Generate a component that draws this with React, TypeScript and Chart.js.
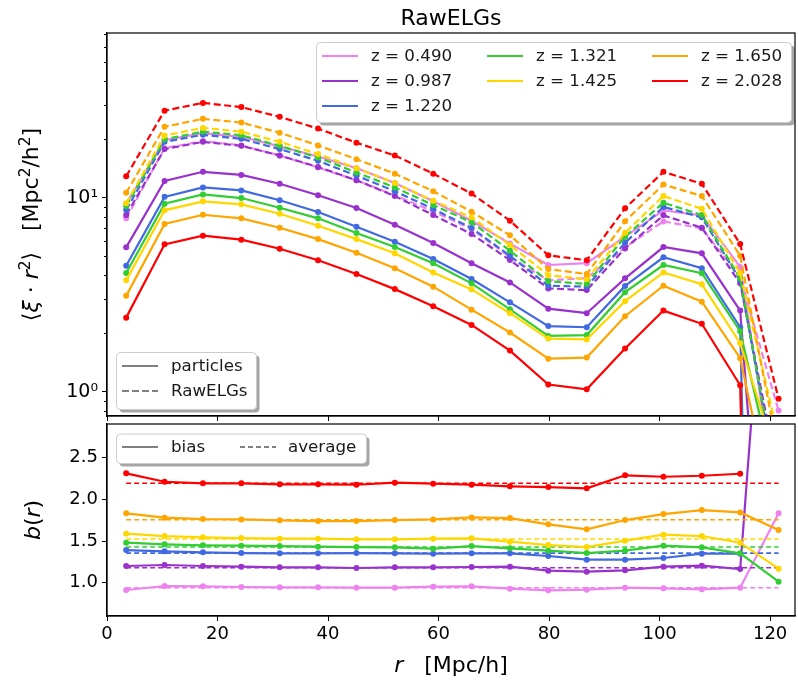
import React, { useEffect, useRef } from "react";
import { Chart, registerables } from "chart.js";

Chart.register(...registerables);

// ---------------- data ----------------
const R_VALUES = [3.47, 10.42, 17.36, 24.31, 31.25, 38.19, 45.14, 52.08, 59.03, 65.97, 72.92, 79.86, 86.81, 93.75, 100.69, 107.64, 114.58, 121.53];

const REDSHIFTS = ["0.490", "0.987", "1.220", "1.321", "1.425", "1.650", "2.028"];
const COLORS = ["#EE82EE", "#9932CC", "#4169E1", "#32CD32", "#FFD700", "#FFA500", "#FF0000"];

// <xi * r^2> of the particles (solid lines)
const PART_Z0490 = [9.3, 19.8, 21.5, 20.6, 18.4, 16.3, 14.2, 11.9, 9.6, 7.6, 5.8, 4.5, 4.6, 6.3, 8.6, 8.1, 4.4, 0.24];
const PART_Z0987 = [5.55, 12.2, 13.6, 13.1, 11.8, 10.3, 8.85, 7.26, 5.84, 4.59, 3.66, 2.68, 2.54, 3.84, 5.57, 5.17, 2.62, 0.0067];
const PART_Z1220 = [4.46, 10.1, 11.3, 10.9, 9.7, 8.44, 7.09, 5.93, 4.83, 3.81, 2.89, 2.18, 2.15, 3.51, 4.93, 4.33, 2.15, 1e-8];
const PART_Z1321 = [4.09, 9.31, 10.4, 9.96, 8.88, 7.83, 6.58, 5.57, 4.59, 3.62, 2.66, 1.94, 1.96, 3.26, 4.5, 4.08, 2.05, 0.29];
const PART_Z1425 = [3.75, 8.61, 9.58, 9.24, 8.27, 7.17, 6.12, 5.17, 4.12, 3.37, 2.54, 1.88, 1.86, 2.93, 4.12, 3.58, 1.78, 0.425];
const PART_Z1650 = [3.12, 7.32, 8.17, 7.83, 7.0, 6.12, 5.21, 4.33, 3.48, 2.65, 2.02, 1.48, 1.5, 2.45, 3.52, 2.91, 1.49, 0.18];
const PART_Z2028 = [2.41, 5.75, 6.37, 6.08, 5.46, 4.76, 4.04, 3.38, 2.76, 2.21, 1.63, 1.09, 1.03, 1.67, 2.62, 2.24, 1.08, 1e-8];

// <xi * r^2> of the RawELGs (dashed lines)
const ELG_Z0490 = [7.83, 18.0, 19.6, 18.6, 16.5, 14.3, 12.3, 10.3, 8.5, 6.9, 4.95, 3.75, 3.85, 5.55, 7.55, 6.95, 3.9, 0.8];
const ELG_Z0987 = [8.14, 17.8, 19.4, 18.5, 16.5, 14.4, 12.3, 10.2, 8.14, 6.5, 4.77, 3.41, 3.34, 5.48, 8.11, 7.0, 3.62, 0.36];
const ELG_Z1220 = [8.64, 19.4, 21.1, 20.1, 17.8, 15.5, 13.0, 10.8, 8.75, 6.98, 5.02, 3.52, 3.48, 5.86, 8.96, 7.92, 3.76, 0.3];
const ELG_Z1321 = [9.06, 20.0, 21.9, 21.0, 18.5, 16.1, 13.5, 11.3, 9.17, 7.47, 5.33, 3.71, 3.59, 6.3, 9.42, 8.14, 3.84, 0.3];
const ELG_Z1425 = [9.36, 20.9, 22.9, 21.9, 19.4, 16.8, 14.2, 11.9, 9.65, 7.92, 5.7, 3.99, 3.8, 6.6, 10.2, 8.77, 4.08, 0.58];
const ELG_Z1650 = [10.6, 23.2, 25.5, 24.4, 21.6, 18.6, 15.8, 13.3, 10.8, 8.47, 6.4, 4.29, 4.04, 7.56, 11.7, 10.2, 5.02, 0.48];
const ELG_Z2028 = [12.9, 28.1, 30.8, 29.3, 26.1, 22.7, 19.2, 16.5, 13.3, 10.5, 7.61, 5.05, 4.76, 8.82, 13.6, 11.8, 5.77, 0.92];

// bias b(r)
const BIAS_Z0490 = [0.912, 0.96, 0.956, 0.948, 0.944, 0.944, 0.94, 0.94, 0.952, 0.956, 0.928, 0.908, 0.916, 0.94, 0.932, 0.92, 0.94, 1.833];
const BIAS_Z0987 = [1.2, 1.212, 1.2, 1.192, 1.184, 1.184, 1.176, 1.184, 1.184, 1.188, 1.192, 1.144, 1.132, 1.148, 1.192, 1.204, 1.164, 7.3];
const BIAS_Z1220 = [1.392, 1.376, 1.364, 1.356, 1.352, 1.352, 1.356, 1.352, 1.348, 1.352, 1.352, 1.32, 1.276, 1.276, 1.296, 1.348, 1.348, null];
const BIAS_Z1321 = [1.48, 1.46, 1.448, 1.444, 1.44, 1.432, 1.428, 1.424, 1.408, 1.44, 1.412, 1.384, 1.356, 1.384, 1.444, 1.424, 1.352, 1.012];
const BIAS_Z1425 = [1.588, 1.56, 1.544, 1.536, 1.528, 1.528, 1.52, 1.52, 1.528, 1.532, 1.492, 1.452, 1.428, 1.504, 1.576, 1.56, 1.48, 1.168];
const BIAS_Z1650 = [1.833, 1.78, 1.764, 1.76, 1.749, 1.74, 1.74, 1.752, 1.76, 1.784, 1.776, 1.7, 1.64, 1.752, 1.824, 1.872, 1.844, 1.632];
const BIAS_Z2028 = [2.313, 2.212, 2.193, 2.193, 2.181, 2.181, 2.176, 2.2, 2.188, 2.176, 2.157, 2.148, 2.133, 2.289, 2.272, 2.284, 2.308, null];

// average bias (dashed horizontal lines)
const BIAS_AVERAGE = [0.94, 1.18, 1.355, 1.428, 1.524, 1.756, 2.193];

const X_TICKS = [0, 20, 40, 60, 80, 100, 120];
const TOP_MAJOR_TICKS = [1, 10];
const TOP_MINOR_TICKS = [0.8, 0.9, 2, 3, 4, 5, 6, 7, 8, 9, 20, 30, 40, 50, 60, 70];
const BOTTOM_Y_TICKS = [1.0, 1.5, 2.0, 2.5];

const PARTICLES = [PART_Z0490, PART_Z0987, PART_Z1220, PART_Z1321, PART_Z1425, PART_Z1650, PART_Z2028];
const ELGS = [ELG_Z0490, ELG_Z0987, ELG_Z1220, ELG_Z1321, ELG_Z1425, ELG_Z1650, ELG_Z2028];
const BIASES = [BIAS_Z0490, BIAS_Z0987, BIAS_Z1220, BIAS_Z1321, BIAS_Z1425, BIAS_Z1650, BIAS_Z2028];

// ---------------- layout ----------------
const W = 798;
const H = 688;
const AREA_LEFT = 107;
const AREA_RIGHT = 797;
const TOP_AREA_TOP = 33;
const TOP_AREA_BOTTOM = 416;
const BOT_AREA_TOP = 424;
const BOT_AREA_BOTTOM = 616;
const FONT = '"DejaVu Sans", "Noto Sans", sans-serif';

type Seg = { t: string; it?: boolean; sup?: boolean };

function drawRich(ctx: CanvasRenderingContext2D, segs: Seg[], x: number, y: number, size: number) {
  let total = 0;
  const parts = segs.map((s) => {
    const sz = s.sup ? size * 0.7 : size;
    const font = `${s.it ? "italic " : ""}${sz}px ${FONT}`;
    ctx.font = font;
    const w = ctx.measureText(s.t).width;
    total += w;
    return { ...s, font, w };
  });
  let cx = x - total / 2;
  ctx.textAlign = "left";
  ctx.textBaseline = "alphabetic";
  parts.forEach((p) => {
    ctx.font = p.font;
    ctx.fillText(p.t, cx, y - (p.sup ? size * 0.38 : 0));
    cx += p.w;
  });
}

function roundRect(ctx: CanvasRenderingContext2D, x: number, y: number, w: number, h: number, r: number) {
  ctx.beginPath();
  ctx.moveTo(x + r, y);
  ctx.lineTo(x + w - r, y);
  ctx.quadraticCurveTo(x + w, y, x + w, y + r);
  ctx.lineTo(x + w, y + h - r);
  ctx.quadraticCurveTo(x + w, y + h, x + w - r, y + h);
  ctx.lineTo(x + r, y + h);
  ctx.quadraticCurveTo(x, y + h, x, y + h - r);
  ctx.lineTo(x, y + r);
  ctx.quadraticCurveTo(x, y, x + r, y);
  ctx.closePath();
}

function legendBox(ctx: CanvasRenderingContext2D, x: number, y: number, w: number, h: number) {
  ctx.save();
  ctx.fillStyle = "rgba(0,0,0,0.35)";
  roundRect(ctx, x + 3, y + 3, w, h, 4);
  ctx.fill();
  ctx.fillStyle = "#ffffff";
  roundRect(ctx, x, y, w, h, 4);
  ctx.fill();
  ctx.strokeStyle = "#cccccc";
  ctx.lineWidth = 1;
  ctx.stroke();
  ctx.restore();
}

function legendEntry(ctx: CanvasRenderingContext2D, x: number, y: number, color: string, dash: number[], label: string, textX: number) {
  ctx.save();
  ctx.strokeStyle = color;
  ctx.lineWidth = 2.2;
  ctx.setLineDash(dash);
  ctx.beginPath();
  ctx.moveTo(x, y);
  ctx.lineTo(x + 36, y);
  ctx.stroke();
  ctx.setLineDash([]);
  ctx.fillStyle = "#1a1a1a";
  ctx.font = `16.7px ${FONT}`;
  ctx.textAlign = "left";
  ctx.textBaseline = "middle";
  ctx.fillText(label, textX, y + 1);
  ctx.restore();
}

function frame(ctx: CanvasRenderingContext2D, a: any) {
  ctx.save();
  ctx.strokeStyle = "#000";
  ctx.lineWidth = 1.2;
  ctx.strokeRect(a.left, a.top, a.right - a.left, a.bottom - a.top);
  ctx.restore();
}

const topDecor = {
  id: "topDecor",
  afterDraw(chart: any) {
    const ctx = chart.ctx as CanvasRenderingContext2D;
    const a = chart.chartArea;
    frame(ctx, a);
    // minor log ticks
    const ys = chart.scales.y;
    ctx.save();
    ctx.strokeStyle = "#000";
    ctx.lineWidth = 1;
    TOP_MINOR_TICKS.forEach((v) => {
      const p = Math.round(ys.getPixelForValue(v)) + 0.5;
      ctx.beginPath();
      ctx.moveTo(a.left, p);
      ctx.lineTo(a.left - 3, p);
      ctx.stroke();
    });
    ctx.restore();
    // title
    ctx.save();
    ctx.fillStyle = "#000";
    ctx.font = `22px ${FONT}`;
    ctx.textAlign = "center";
    ctx.textBaseline = "alphabetic";
    ctx.fillText("RawELGs", (a.left + a.right) / 2, 25);
    ctx.restore();
    // y label
    ctx.save();
    ctx.fillStyle = "#000";
    ctx.translate(30, (a.top + a.bottom) / 2);
    ctx.rotate(-Math.PI / 2);
    drawRich(
      ctx,
      [
        { t: "\u27E8" },
        { t: "\u03BE", it: true },
        { t: " \u00B7 " },
        { t: "r", it: true },
        { t: "2", sup: true },
        { t: "\u27E9" },
        { t: "   [Mpc" },
        { t: "2", sup: true },
        { t: "/h" },
        { t: "2", sup: true },
        { t: "]" },
      ],
      0,
      8,
      22
    );
    ctx.restore();
    // redshift legend
    legendBox(ctx, 316.5, 42.5, 475, 80);
    const colX = [322, 487, 652];
    const rowY = [56, 81, 106];
    const slots = [
      [0, 0], [0, 1], [0, 2],
      [1, 0], [1, 1],
      [2, 0], [2, 1],
    ];
    REDSHIFTS.forEach((z, k) => {
      const [c, r] = slots[k];
      legendEntry(ctx, colX[c], rowY[r], COLORS[k], [], `z = ${z}`, colX[c] + 49);
    });
    // style legend
    legendBox(ctx, 116.5, 352.5, 140, 57);
    legendEntry(ctx, 122, 366, "#808080", [], "particles", 171);
    legendEntry(ctx, 122, 391, "#808080", [7, 3], "RawELGs", 171);
  },
};

const bottomDecor = {
  id: "bottomDecor",
  afterDraw(chart: any) {
    const ctx = chart.ctx as CanvasRenderingContext2D;
    const a = chart.chartArea;
    frame(ctx, a);
    legendBox(ctx, 116.5, 434, 250, 29.5);
    legendEntry(ctx, 122, 447, "#808080", [], "bias", 171);
    legendEntry(ctx, 240, 447, "#808080", [5, 3], "average", 288);
    ctx.save();
    ctx.fillStyle = "#000";
    drawRich(ctx, [{ t: "r", it: true }, { t: "   [Mpc/h]" }], (a.left + a.right) / 2, 672, 22);
    ctx.translate(32, (a.top + a.bottom) / 2);
    ctx.rotate(-Math.PI / 2);
    drawRich(ctx, [{ t: "b", it: true }, { t: "(" }, { t: "r", it: true }, { t: ")" }], 0, 8, 22);
    ctx.restore();
  },
};

function xScale(showLabels: boolean, height: number) {
  return {
    type: "linear",
    min: 0,
    max: 124.5,
    afterBuildTicks: (s: any) => {
      s.ticks = X_TICKS.map((v) => ({ value: v }));
    },
    afterFit: (s: any) => {
      s.height = height;
    },
    ticks: {
      display: showLabels,
      color: "#000",
      font: { size: 18, family: FONT },
      padding: 3,
      maxRotation: 0,
      autoSkip: false,
      callback: (v: any) => String(v),
    },
    grid: { drawOnChartArea: false, drawTicks: true, tickLength: 5, color: "#000", tickWidth: 1 },
    border: { display: true, color: "#000", width: 1.2 },
  };
}

export default function App() {
  const topRef = useRef<HTMLCanvasElement | null>(null);
  const botRef = useRef<HTMLCanvasElement | null>(null);

  useEffect(() => {
    Chart.defaults.font.family = FONT;

    const topSets: any[] = [];
    REDSHIFTS.forEach((z, k) => {
      topSets.push({
        label: `particles z = ${z}`,
        data: R_VALUES.map((x, i) => ({ x, y: PARTICLES[k][i] })),
        borderColor: COLORS[k],
        backgroundColor: COLORS[k],
        borderWidth: 2.2,
        pointRadius: 3,
        pointBorderWidth: 0,
        pointHoverRadius: 3,
        clip: 0,
        order: 1000 - 2 * k,
      });
      topSets.push({
        label: `RawELGs z = ${z}`,
        data: R_VALUES.map((x, i) => ({ x, y: ELGS[k][i] })),
        borderColor: COLORS[k],
        backgroundColor: COLORS[k],
        borderWidth: 2.2,
        borderDash: [7, 3.5],
        pointRadius: 3,
        pointBorderWidth: 0,
        pointHoverRadius: 3,
        clip: 0,
        order: 1000 - 2 * k - 1,
      });
    });

    const botSets: any[] = [];
    REDSHIFTS.forEach((z, k) => {
      botSets.push({
        label: `bias z = ${z}`,
        data: R_VALUES.map((x, i) => ({ x, y: BIASES[k][i] })),
        borderColor: COLORS[k],
        backgroundColor: COLORS[k],
        borderWidth: 2.2,
        pointRadius: 3,
        pointBorderWidth: 0,
        pointHoverRadius: 3,
        spanGaps: false,
        clip: 0,
        order: 1000 - 2 * k,
      });
      botSets.push({
        label: `average z = ${z}`,
        data: [
          { x: R_VALUES[0], y: BIAS_AVERAGE[k] },
          { x: R_VALUES[R_VALUES.length - 1], y: BIAS_AVERAGE[k] },
        ],
        borderColor: COLORS[k],
        backgroundColor: COLORS[k],
        borderWidth: 1.6,
        borderDash: [5, 3],
        pointRadius: 0,
        clip: 0,
        order: 1000 - 2 * k - 1,
      });
    });

    const topChart = new Chart(topRef.current as HTMLCanvasElement, {
      type: "line",
      data: { datasets: topSets },
      options: {
        responsive: false,
        animation: false,
        devicePixelRatio: 1,
        events: [],
        layout: { padding: { top: TOP_AREA_TOP, right: W - AREA_RIGHT, left: 0, bottom: 0 } },
        plugins: { legend: { display: false }, tooltip: { enabled: false }, title: { display: false } },
        scales: {
          x: xScale(false, H - TOP_AREA_BOTTOM) as any,
          y: {
            type: "logarithmic",
            min: 0.75,
            max: 70.6,
            afterBuildTicks: (s: any) => {
              s.ticks = TOP_MAJOR_TICKS.map((v) => ({ value: v, major: true }));
            },
            afterFit: (s: any) => {
              s.width = AREA_LEFT;
            },
            ticks: {
              color: "#000",
              font: { size: 19, family: FONT },
              padding: 4,
              autoSkip: false,
              callback: (v: any) => (v === 1 ? "10\u2070" : v === 10 ? "10\u00B9" : ""),
            },
            grid: { drawOnChartArea: false, drawTicks: true, tickLength: 5, color: "#000", tickWidth: 1 },
            border: { display: true, color: "#000", width: 1.2 },
          } as any,
        },
      },
      plugins: [topDecor],
    });

    const botChart = new Chart(botRef.current as HTMLCanvasElement, {
      type: "line",
      data: { datasets: botSets },
      options: {
        responsive: false,
        animation: false,
        devicePixelRatio: 1,
        events: [],
        layout: { padding: { top: BOT_AREA_TOP, right: W - AREA_RIGHT, left: 0, bottom: 0 } },
        plugins: { legend: { display: false }, tooltip: { enabled: false }, title: { display: false } },
        scales: {
          x: xScale(true, H - BOT_AREA_BOTTOM) as any,
          y: {
            type: "linear",
            min: 0.6,
            max: 2.905,
            afterBuildTicks: (s: any) => {
              s.ticks = BOTTOM_Y_TICKS.map((v) => ({ value: v }));
            },
            afterFit: (s: any) => {
              s.width = AREA_LEFT;
            },
            ticks: {
              color: "#000",
              font: { size: 18, family: FONT },
              padding: 4,
              autoSkip: false,
              callback: (v: any) => Number(v).toFixed(1),
            },
            grid: { drawOnChartArea: false, drawTicks: true, tickLength: 5, color: "#000", tickWidth: 1 },
            border: { display: true, color: "#000", width: 1.2 },
          } as any,
        },
      },
      plugins: [bottomDecor],
    });

    return () => {
      topChart.destroy();
      botChart.destroy();
    };
  }, []);

  return (
    <div style={{ position: "absolute", left: 0, top: 0, width: W, height: H, background: "#fff", overflow: "hidden" }}>
      <canvas ref={topRef} width={W} height={H} style={{ position: "absolute", left: 0, top: 0, width: W, height: H }} />
      <canvas ref={botRef} width={W} height={H} style={{ position: "absolute", left: 0, top: 0, width: W, height: H }} />
    </div>
  );
}
